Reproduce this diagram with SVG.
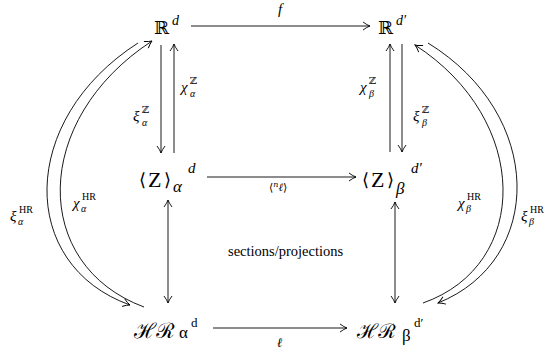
<svg xmlns="http://www.w3.org/2000/svg" width="555" height="353" viewBox="0 0 555 353">
<style>
text{font-family:Liberation Serif,Times New Roman,Tinos,Noto Serif,DejaVu Serif,FreeSerif,serif}
.ds{font-family:DejaVu Serif,Liberation Serif,Noto Serif,serif}
.m{font-style:italic}
.big{font-size:18px}
.lbl{font-size:15px}
.sc{font-size:10px}
.ln{fill:none;stroke:#000;stroke-width:0.9}
</style>
<defs>
<marker id="ah" markerUnits="userSpaceOnUse" markerWidth="12" markerHeight="12" viewBox="-8 -6 10 12" refX="0" refY="0" orient="auto">
<path d="M-7,-4 Q-3,-1 0,0 Q-3,1 -7,4" fill="none" stroke="#000" stroke-width="0.9"/>
</marker>
<marker id="at" markerUnits="userSpaceOnUse" markerWidth="12" markerHeight="12" viewBox="-8 -6 10 12" refX="0" refY="0" orient="auto-start-reverse">
<path d="M-7,-4 Q-3,-1 0,0 Q-3,1 -7,4" fill="none" stroke="#000" stroke-width="0.9"/>
</marker>
</defs>
<g id="connectors">
<path class="ln" d="M191,26 H370" marker-end="url(#ah)"/>
<path class="ln" d="M207,177 H356" marker-end="url(#ah)"/>
<path class="ln" d="M213,328 H347" marker-end="url(#ah)"/>
<path class="ln" d="M161,45 V153" marker-end="url(#ah)"/>
<path class="ln" d="M174,153 V44" marker-end="url(#ah)"/>
<path class="ln" d="M390,152 V44" marker-end="url(#ah)"/>
<path class="ln" d="M402,44 V152" marker-end="url(#ah)"/>
<path class="ln" d="M168,200 V303" marker-start="url(#at)" marker-end="url(#at)"/>
<path class="ln" d="M395,202 V303" marker-start="url(#at)" marker-end="url(#at)"/>
<path class="ln" d="M138,43 C18,120 18,265 130,305" marker-end="url(#ah)"/>
<path class="ln" d="M144,307 C31,265 31,120 152,41" marker-end="url(#ah)"/>
<path class="ln" d="M423,303 C531,265 531,120 415,45" marker-end="url(#ah)"/>
<path class="ln" d="M428,43 C545,115 545,260 438,303" marker-end="url(#ah)"/>
<text class="m" x="278" y="14" font-size="15">f</text>
<text class="ds" x="269" y="191" font-size="11">⟨<tspan font-size="8" font-style="italic" dy="-4">n</tspan><tspan font-style="italic" dy="4">ℓ</tspan>⟩</text>
<text class="ds m" x="277" y="347" font-size="13">ℓ</text>
<text x="228" y="256" font-size="14.5">sections/projections</text>
<g id="lbl-chiZa"><text class="m lbl" x="181" y="92">χ</text><text class="ds sc" x="190" y="84">ℤ</text><text class="m sc" x="190" y="97">α</text></g>
<g id="lbl-xiZa"><text class="m lbl" x="133" y="121">ξ</text><text class="ds sc" x="142" y="113">ℤ</text><text class="m sc" x="142" y="126">α</text></g>
<g id="lbl-chiZb"><text class="m lbl" x="360" y="92">χ</text><text class="ds sc" x="369" y="84">ℤ</text><text class="m sc" x="369" y="97">β</text></g>
<g id="lbl-xiZb"><text class="m lbl" x="413" y="121">ξ</text><text class="ds sc" x="422" y="113">ℤ</text><text class="m sc" x="422" y="126">β</text></g>
<g id="lbl-xiHRa"><text class="m lbl" x="10" y="221">ξ</text><text class="sc" x="19" y="213" font-size="11">HR</text><text class="m sc" x="18" y="225">α</text></g>
<g id="lbl-chiHRa"><text class="m lbl" x="73" y="208">χ</text><text class="sc" x="82" y="200" font-size="11">HR</text><text class="m sc" x="81" y="212">α</text></g>
<g id="lbl-chiHRb"><text class="m lbl" x="458" y="208">χ</text><text class="sc" x="467" y="200" font-size="11">HR</text><text class="m sc" x="466" y="212">β</text></g>
<g id="lbl-xiHRb"><text class="m lbl" x="521" y="221">ξ</text><text class="sc" x="530" y="213" font-size="11">HR</text><text class="m sc" x="529" y="225">β</text></g>
</g>
<g id="R-d"><text class="ds big" x="154" y="34">ℝ</text><text class="m" x="172" y="25" font-size="14">d</text></g>
<g id="R-dp"><text class="ds big" x="378" y="34">ℝ</text><text class="m" x="396" y="25" font-size="14">d′</text></g>
<g id="Z-alpha"><text class="ds" font-size="18" x="139" y="186">⟨</text><text font-size="22" x="148" y="187">Z</text><text class="ds" font-size="18" x="164" y="186">⟩</text><text class="m" x="173" y="192" font-size="17">α</text><text class="m" x="188" y="173" font-size="15">d</text></g>
<g id="Z-beta"><text class="ds" font-size="18" x="362" y="186">⟨</text><text font-size="22" x="371" y="187">Z</text><text class="ds" font-size="18" x="387" y="186">⟩</text><text class="m" x="396" y="194" font-size="17">β</text><text class="m" x="411" y="173" font-size="15">d′</text></g>
<g id="HR-alpha"><text class="ds" font-size="21" x="134" y="338">ℋℛ</text><text x="179" y="338" font-size="17">α</text><text x="191" y="327" font-size="13">d</text></g>
<g id="HR-beta"><text class="ds" font-size="20" x="357" y="338">ℋℛ</text><text x="402" y="341" font-size="17">β</text><text x="414" y="327" font-size="13">d′</text></g>
</svg>
